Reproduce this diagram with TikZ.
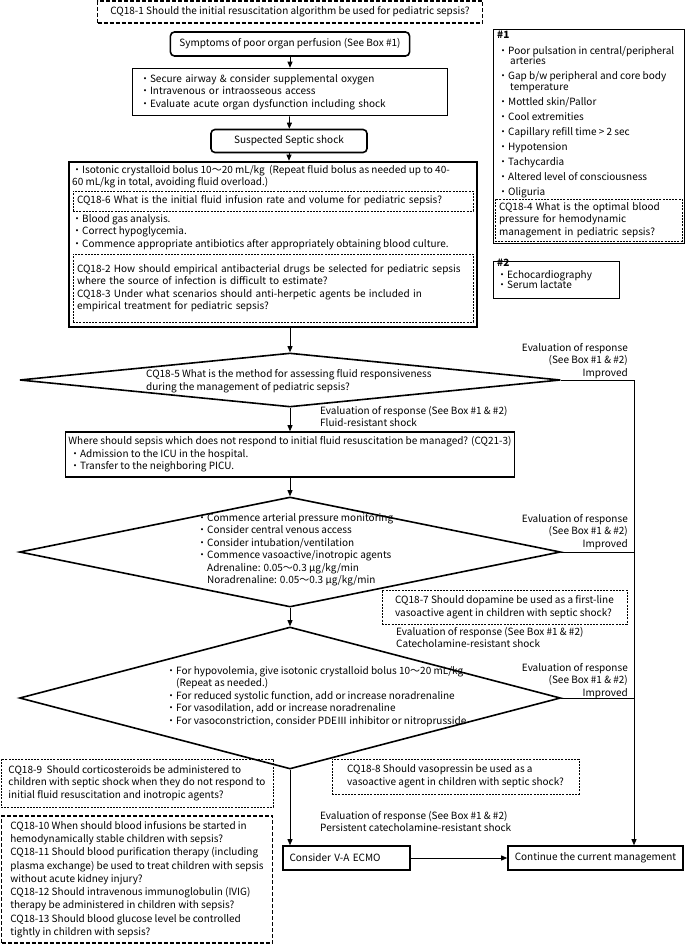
\documentclass[tikz,border=0pt]{standalone}
\usepackage{fontspec}
\setmainfont{Noto Sans CJK JP}
\usetikzlibrary{shapes.geometric,arrows.meta}

\begin{document}
\begin{tikzpicture}[x=1pt, y=-1pt, >={Triangle[length=6pt,width=5pt]},
  every node/.style={font=\fontsize{10}{12.5}\selectfont, inner sep=0pt},
  thickbox/.style={draw, line width=1.6pt, align=left, inner xsep=5pt},
  roundbox/.style={thickbox, rounded corners=4pt, align=center},
  cqbox/.style={draw, line width=0.6pt, dash pattern=on 2pt off 1.2pt, align=left, inner xsep=4pt},
  cqbold/.style={draw, line width=1.5pt, dash pattern=on 4pt off 2pt, align=left, inner xsep=5pt},
  infobox/.style={draw, line width=0.6pt},
  decision/.style={draw, diamond, line width=1.6pt, inner sep=0pt},
  note/.style={align=left},
  link/.style={line width=0.8pt}]
\useasboundingbox (0,0) rectangle (685,944);

% Initial steps
\node[cqbold, minimum width=385, minimum height=22, align=center] (cq1) at (290,12) {CQ18-1 Should the initial resuscitation algorithm be used for pediatric sepsis?};
\node[roundbox, minimum height=24, inner xsep=9pt] (symp) at (290,44) {Symptoms of poor organ perfusion (See Box \#1)};
\node[thickbox, minimum width=315, minimum height=47, text width=300, inner xsep=7.5pt] (secure) at (290,92) {・Secure airway \& consider supplemental oxygen\\・Intravenous or intraosseous access\\・Evaluate acute organ dysfunction including shock};
\node[roundbox, minimum width=156, minimum height=23] (susp) at (289,141) {Suspected Septic shock};

% Fluid resuscitation block
\node[draw, line width=2.6pt, minimum width=408, minimum height=165] (fluid) at (273,244.5) {};
\node[note, anchor=north west] (bolus) at (72,165) {・Isotonic crystalloid bolus 10～20 mL/kg\ \ (Repeat fluid bolus as needed up to 40-\\60 mL/kg in total, avoiding fluid overload.)};
\node[cqbox, minimum width=400, minimum height=20, text width=392] (cq6) at (273,201) {CQ18-6 What is the initial fluid infusion rate and volume for pediatric sepsis?};
\node[note, anchor=north west] (labs) at (72,214) {・Blood gas analysis.\\・Correct hypoglycemia.\\・Commence appropriate antibiotics after appropriately obtaining blood culture.};
\node[cqbox, minimum width=400, minimum height=68, text width=392] (cq2) at (273,288) {CQ18-2 How should empirical antibacterial drugs be selected for pediatric sepsis\\where the source of infection is difficult to estimate?\\CQ18-3 Under what scenarios should anti-herpetic agents be included in\\empirical treatment for pediatric sepsis?};

% First decision
\node[decision, minimum width=541, minimum height=54] (d1) at (290,380) {};
\node[note, anchor=west] (cq5) at (146,381) {CQ18-5 What is the method for assessing fluid responsiveness\\during the management of pediatric sepsis?};
\node[align=right, anchor=east] (eval1) at (628,361) {Evaluation of response\\(See Box \#1 \& \#2)\\Improved};
\node[note, anchor=north west] (eval2) at (320,406) {Evaluation of response (See Box \#1 \& \#2)\\Fluid-resistant shock};
\node[thickbox, minimum width=447, minimum height=45, inner xsep=3pt] (where) at (290,454.5) {Where should sepsis which does not respond to initial fluid resuscitation be managed? (CQ21-3)\\\,・Admission to the ICU in the hospital.\\\,・Transfer to the neighboring PICU.};

% Second decision
\node[decision, minimum width=541, minimum height=110] (d2) at (290,552) {};
\node[note, anchor=north west] (vaso) at (197,513) {・Commence arterial pressure monitoring\\・Consider central venous access\\・Consider intubation/ventilation\\・Commence vasoactive/inotropic agents\\\hspace{1em}Adrenaline: 0.05～0.3 μg/kg/min\\\hspace{1em}Noradrenaline: 0.05～0.3 μg/kg/min};
\node[align=right, anchor=east] (eval3) at (628,532) {Evaluation of response\\(See Box \#1 \& \#2)\\Improved};
\node[cqbox, minimum width=245, minimum height=34] (cq7) at (504.5,607) {CQ18-7 Should dopamine be used as a first-line\\vasoactive agent in children with septic shock?};
\node[note, anchor=north west] (eval4) at (396,627) {Evaluation of response (See Box \#1 \& \#2)\\Catecholamine-resistant shock};

% Third decision
\node[decision, minimum width=541, minimum height=142] (d3) at (290,698) {};
\node[note, anchor=north west] (rescue) at (166,666) {・For hypovolemia, give isotonic crystalloid bolus 10～20 mL/kg\\\hspace{1em}(Repeat as needed.)\\・For reduced systolic function, add or increase noradrenaline\\・For vasodilation, add or increase noradrenaline\\・For vasoconstriction, consider PDEⅢ inhibitor or nitroprusside};
\node[align=right, anchor=east] (eval5) at (628,681) {Evaluation of response\\(See Box \#1 \& \#2)\\Improved};
\node[cqbox, minimum width=272, minimum height=48] (cq9) at (137,783) {CQ18-9\ \ Should corticosteroids be administered to\\children with septic shock when they do not respond to\\initial fluid resuscitation and inotropic agents?};
\node[cqbox, minimum width=247, minimum height=35] (cq8) at (455.5,776.5) {CQ18-8 Should vasopressin be used as a\\vasoactive agent in children with septic shock?};
\node[note, anchor=north west] (eval6) at (320,811) {Evaluation of response (See Box \#1 \& \#2)\\Persistent catecholamine-resistant shock};
\node[cqbold, minimum width=271, minimum height=127, font=\fontsize{10}{13.3}\selectfont] (cq10) at (137,879.5) {CQ18-10 When should blood infusions be started in\\hemodynamically stable children with sepsis?\\CQ18-11 Should blood purification therapy (including\\plasma exchange) be used to treat children with sepsis\\without acute kidney injury?\\CQ18-12 Should intravenous immunoglobulin (IVIG)\\therapy be administered in children with sepsis?\\CQ18-13 Should blood glucose level be controlled\\tightly in children with sepsis?};

% End points
\node[thickbox, minimum width=127, minimum height=24, text width=114, inner xsep=6.5pt] (ecmo) at (346.5,858) {Consider V-A ECMO};
\node[thickbox, minimum width=175, minimum height=24, align=center] (cont) at (595.5,858) {Continue the current management};

% Boxes #1 and #2
\node[infobox, minimum width=191, minimum height=214] (box1) at (588.5,136) {};
\node[note, anchor=north west] (box1h) at (497,31) {\textbf{\#1}};
\node[note, anchor=north west, font=\fontsize{10}{15}\selectfont] (signs) at (498,46) {・Poor pulsation in central/peripheral\\[-4.5pt]\hspace{1.2em}arteries\\・Gap b/w peripheral and core body\\[-4.5pt]\hspace{1.2em}temperature\\・Mottled skin/Pallor\\・Cool extremities\\・Capillary refill time > 2 sec\\・Hypotension\\・Tachycardia\\・Altered level of consciousness\\・Oliguria};
\node[cqbox, minimum width=187, minimum height=42, text width=179] (cq4) at (588.5,220) {CQ18-4 What is the optimal blood\\pressure for hemodynamic\\management in pediatric sepsis?};
\node[infobox, minimum width=126, minimum height=37] (box2) at (556,279.5) {};
\node[note, anchor=north west] (box2t) at (497,259) {\textbf{\#2}\\[-1pt]・Echocardiography\\[-2pt]・Serum lactate};

% Connectors
\coordinate (r1) at (634,380);
\coordinate (r2) at (634,552);
\coordinate (r3) at (634,698);
\draw[->, link] (symp) -- (secure);
\draw[->, link] (secure) -- (susp);
\draw[->, link] (susp.south) -- (susp.south |- fluid.north);
\draw[->, link] (fluid.south -| d1.north) -- (d1.north);
\draw[->, link] (d1.south) -- (where.north);
\draw[->, link] (where.south) -- (d2.north);
\draw[->, link] (d2.south) -- (d3.north);
\draw[->, link] (d3.south) -- (d3.south |- ecmo.north);
\draw[->, link] (ecmo) -- (cont);
\draw[link] (d2.east) -- (r2);
\draw[link] (d3.east) -- (r3);
\draw[->, link] (d1.east) -- (r1) -- (r1 |- cont.north);
\end{tikzpicture}
\end{document}
